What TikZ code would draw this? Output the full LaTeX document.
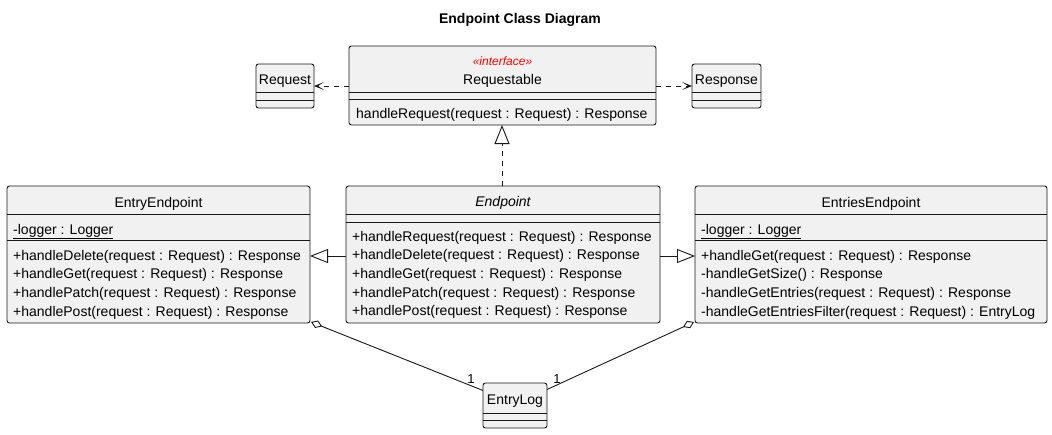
\documentclass[tikz,border=0pt]{standalone}
\usepackage{fontspec}
\setmainfont{Liberation Sans}
\usetikzlibrary{arrows.meta,calc}
\definecolor{lc}{HTML}{181818}
\definecolor{boxfill}{HTML}{F1F1F1}
\definecolor{stereo}{HTML}{FF0000}
\begin{document}
\begin{tikzpicture}[x=1pt,y=-1pt,
  cls/.style={draw=lc, fill=boxfill, rounded corners=2.5pt, line width=0.9pt, inner sep=0pt, outer sep=0pt, anchor=north west},
  sep/.style={draw=lc, line width=0.9pt},
  mem/.style={anchor=base west, inner sep=0pt, font=\fontsize{14}{16}\selectfont, text=black},
  nm/.style={anchor=base, inner sep=0pt, font=\fontsize{14}{16}\selectfont, text=black},
  dep/.style={draw=lc, line width=0.9pt, dash pattern=on 5pt off 5pt, -{Stealth[length=10pt,width=8pt,inset=6pt]}},
  real/.style={draw=lc, line width=0.9pt, dash pattern=on 5pt off 5pt, -{Triangle[open,length=19pt,width=15pt,fill=white]}},
  gen/.style={draw=lc, line width=0.9pt, -{Triangle[open,length=18pt,width=14pt,fill=white]}},
  agg/.style={draw=lc, line width=0.9pt, {Diamond[open,length=12pt,width=8pt,fill=white]}-},
  mult/.style={anchor=center, inner sep=0pt, font=\fontsize{13}{15}\selectfont}
]
\useasboundingbox[fill=white] (0,0) rectangle (1052,434);

% title
\node[nm, font=\fontsize{14}{16}\selectfont\bfseries] (title) at (520,23) {Endpoint Class Diagram};

% Request
\node[cls, minimum width=58pt, minimum height=44pt] (req) at (256,64) {};
\draw[sep] ($(req.north west)+(0,28)$) -- ($(req.north east)+(0,28)$);
\draw[sep] ($(req.north west)+(0,36)$) -- ($(req.north east)+(0,36)$);
\node[nm] (reqn) at ($(req.north)+(0,20)$) {Request};

% Response
\node[cls, minimum width=69pt, minimum height=44pt] (resp) at (692,64) {};
\draw[sep] ($(resp.north west)+(0,28)$) -- ($(resp.north east)+(0,28)$);
\draw[sep] ($(resp.north west)+(0,36)$) -- ($(resp.north east)+(0,36)$);
\node[nm] (respn) at ($(resp.north)+(0,20)$) {Response};

% Requestable
\node[cls, minimum width=307pt, minimum height=79pt] (rq) at (349,46) {};
\draw[sep] ($(rq.north west)+(0,46)$) -- ($(rq.north east)+(0,46)$);
\draw[sep] ($(rq.north west)+(0,53)$) -- ($(rq.north east)+(0,53)$);
\node[nm, font=\fontsize{12}{14}\selectfont\itshape, text=stereo] (rqs) at ($(rq.north)+(0,19)$) {«interface»};
\node[nm] (rqn) at ($(rq.north)+(0,38)$) {Requestable};
\node[mem] (rq1) at (356,118) {handleRequest(request : Request) : Response};

% EntryEndpoint
\node[cls, minimum width=303pt, minimum height=137pt] (ee) at (7,186) {};
\draw[sep] ($(ee.north west)+(0,28)$) -- ($(ee.north east)+(0,28)$);
\draw[sep] ($(ee.north west)+(0,54)$) -- ($(ee.north east)+(0,54)$);
\node[nm] (een) at ($(ee.north)+(0,21)$) {EntryEndpoint};
\node[mem] (ee0) at (13,234) {\underline{-logger : Logger}};
\node[mem] (ee1) at (13,260) {+handleDelete(request : Request) : Response};
\node[mem] (ee2) at (13,278.7) {+handleGet(request : Request) : Response};
\node[mem] (ee3) at (13,297.3) {+handlePatch(request : Request) : Response};
\node[mem] (ee4) at (13,316) {+handlePost(request : Request) : Response};

% Endpoint
\node[cls, minimum width=314pt, minimum height=137pt] (ep) at (346,186) {};
\draw[sep] ($(ep.north west)+(0,28)$) -- ($(ep.north east)+(0,28)$);
\draw[sep] ($(ep.north west)+(0,36)$) -- ($(ep.north east)+(0,36)$);
\node[nm, font=\fontsize{14}{16}\selectfont\itshape] (epn) at ($(ep.north)+(0,20)$) {Endpoint};
\node[mem] (ep1) at (352,241) {+handleRequest(request : Request) : Response};
\node[mem] (ep2) at (352,259.7) {+handleDelete(request : Request) : Response};
\node[mem] (ep3) at (352,278.4) {+handleGet(request : Request) : Response};
\node[mem] (ep4) at (352,297.1) {+handlePatch(request : Request) : Response};
\node[mem] (ep5) at (352,315.8) {+handlePost(request : Request) : Response};

% EntriesEndpoint
\node[cls, minimum width=352pt, minimum height=137pt] (es) at (695,186) {};
\draw[sep] ($(es.north west)+(0,28)$) -- ($(es.north east)+(0,28)$);
\draw[sep] ($(es.north west)+(0,54)$) -- ($(es.north east)+(0,54)$);
\node[nm] (esn) at ($(es.north)+(0,21)$) {EntriesEndpoint};
\node[mem] (es0) at (701,234) {\underline{-logger : Logger}};
\node[mem] (es1) at (701,260) {+handleGet(request : Request) : Response};
\node[mem] (es2) at (701,278.7) {-handleGetSize() : Response};
\node[mem] (es3) at (701,297.3) {-handleGetEntries(request : Request) : Response};
\node[mem] (es4) at (701,316) {-handleGetEntriesFilter(request : Request) : EntryLog};

% EntryLog
\node[cls, minimum width=64pt, minimum height=45pt] (el) at (483,383) {};
\draw[sep] ($(el.north west)+(0,30)$) -- ($(el.north east)+(0,30)$);
\draw[sep] ($(el.north west)+(0,37)$) -- ($(el.north east)+(0,37)$);
\node[nm] (eln) at ($(el.north)+(0,21)$) {EntryLog};

% connectors
\draw[dep] (rq.west |- req.east) -- (req.east);
\draw[dep] (rq.east |- resp.west) -- (resp.west);
\draw[real] (ep.north -| 502,0) -- (rq.south -| 502,0);
\draw[gen] (ep.west |- 0,256) -- (ee.east |- 0,256);
\draw[gen] (ep.east |- 0,256) -- (es.west |- 0,256);
\draw[agg] ($(ee.south east)+(1,-1)$) -- ($(el.west)+(0,-15)$);
\draw[agg] ($(es.south west)+(-1,-1)$) -- ($(el.east)+(0,-16)$);
\node[mult] (m1) at (471,379) {1};
\node[mult] (m2) at (557,379) {1};
\end{tikzpicture}
\end{document}
